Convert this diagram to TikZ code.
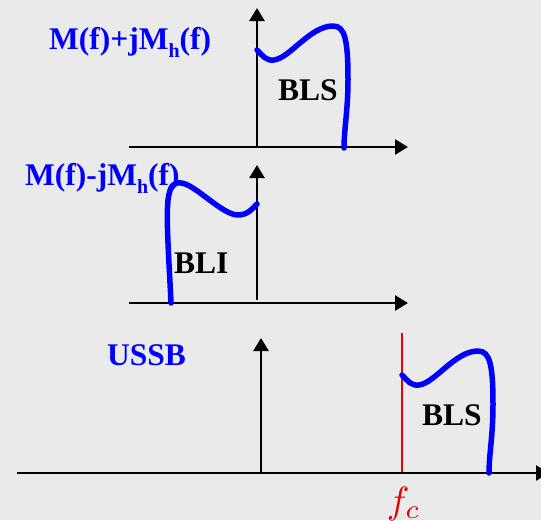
\documentclass[tikz,border=0pt]{standalone}
\usepackage{fontspec}
\setmainfont{Liberation Serif}
\usetikzlibrary{arrows.meta}
\definecolor{bg}{RGB}{234,234,234}
\definecolor{sigblue}{RGB}{0,0,255}
\definecolor{fcred}{RGB}{230,0,0}
\tikzset{
  axis/.style={line width=2.6pt, -{Triangle[length=13pt,width=15pt]}},
  band/.style={sigblue, line width=5.5pt, line cap=round, line join=round},
  lbl/.style={anchor=base west, inner sep=0pt, text=sigblue, font=\bfseries\fontsize{31.5}{32}\selectfont},
  bandlbl/.style={anchor=base west, inner sep=0pt, text=black, font=\bfseries\fontsize{31.5}{32}\selectfont},
  pics/uppband/.style={code={
    \draw[band] (0,0) .. controls (6,6) and (9,11) .. (17,10)
      .. controls (33,8) and (53,-24) .. (76,-24)
      .. controls (88,-24) and (91,-10) .. (91,30)
      .. controls (91,60) and (87,80) .. (87,98);
  }}
}
\newcommand{\subh}{\raisebox{-8pt}{\fontsize{20}{20}\selectfont h}}
\begin{document}
\begin{tikzpicture}[x=1pt,y=-1pt]
\useasboundingbox (0,0) rectangle (541,520);
\clip (0,0) rectangle (541,520);
\fill[bg] (0,0) rectangle (541,520);

% panel 1
\coordinate (o1) at (257,147);
\coordinate (x1l) at (129,147);
\coordinate (x1r) at (408,147);
\coordinate (y1t) at (257,8);
\draw[axis] (x1l) -- (x1r);
\draw[axis] (o1) -- (y1t);
\pic at (257,50) {uppband};
\node[lbl] (t1) at (49,49) {M(f)+jM\subh(f)};
\node[bandlbl] (b1) at (278,100) {BLS};

% panel 2
\coordinate (o2) at (257,300);
\coordinate (x2l) at (129,303);
\coordinate (x2r) at (408,303);
\coordinate (y2t) at (257,165);
\draw[axis] (x2l) -- (x2r);
\draw[axis] (o2) -- (y2t);
\draw[band] (171,303) .. controls (169,260) and (166,220) .. (168,200)
  .. controls (170,185) and (174,182) .. (181,183)
  .. controls (195,184) and (222,215) .. (238,215)
  .. controls (248,215) and (253,208) .. (257,204);
\node[lbl] (t2) at (25,185) {M(f)-jM\subh(f)};
\node[bandlbl] (b2) at (174,273) {BLI};

% panel 3
\coordinate (o3) at (261,474);
\coordinate (x3l) at (17,473);
\coordinate (x3r) at (549,473);
\coordinate (y3t) at (261,338);
\coordinate (fct) at (402,333);
\coordinate (fcb) at (402,472);
\draw[axis] (x3l) -- (x3r);
\draw[axis] (o3) -- (y3t);
\draw[fcred, line width=2pt] (fcb) -- (fct);
\pic at (402,375) {uppband};
\node[lbl] (t3) at (107,365) {USSB};
\node[bandlbl] (b3) at (422,425) {BLS};
\node[anchor=base west, inner sep=0pt, text=fcred, font=\fontsize{10}{10}\selectfont, scale=3.8, transform shape=false] (fc) at (386,513) {$f_c$};
\end{tikzpicture}
\end{document}
